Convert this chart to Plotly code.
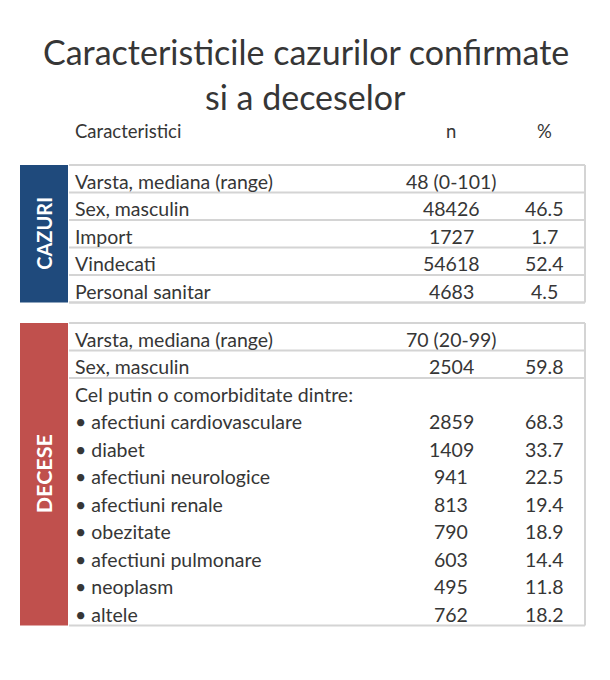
import plotly.graph_objects as go

# ---- data ----
title_lines = ["Caracteristicile cazurilor confirmate", "si a deceselor"]
header_labels = ["Caracteristici", "n", "%"]

cazuri_group = "CAZURI"
cazuri_labels = ["Varsta, mediana (range)", "Sex, masculin", "Import", "Vindecati", "Personal sanitar"]
cazuri_n = ["48 (0-101)", "48426", "1727", "54618", "4683"]
cazuri_pct = ["", "46.5", "1.7", "52.4", "4.5"]

decese_group = "DECESE"
decese_labels = ["Varsta, mediana (range)", "Sex, masculin", "Cel putin o comorbiditate dintre:",
                 "• afectiuni cardiovasculare", "• diabet", "• afectiuni neurologice",
                 "• afectiuni renale", "• obezitate", "• afectiuni pulmonare", "• neoplasm", "• altele"]
decese_n = ["70 (20-99)", "2504", "", "2859", "1409", "941", "813", "790", "603", "495", "762"]
decese_pct = ["", "59.8", "", "68.3", "33.7", "22.5", "19.4", "18.9", "14.4", "11.8", "18.2"]

# ---- layout constants ----
W, H = 610, 680
OFF = 8  # page body margin
FONT = "Lato"
TXT = "#363636"
BLUE = "#1f4a7c"
RED = "#c0504d"
GRID = "#d4d4d4"
X_BLOCK0, X_BLOCK1 = 20, 68
X_RIGHT = 585
X_LABEL = 73
X_N = 451
X_PCT = 544
ROW_H = 27.5
ROW_FS = 19.5

shapes = []
annotations = []

# outer frame (right edge visible)
shapes.append(dict(type="line", x0=603.5, x1=603.5, y0=OFF, y1=H - OFF, line=dict(color="#cfcfcf", width=1.5)))

# title
annotations.append(dict(x=W / 2 + 1, y=51, text=title_lines[0], showarrow=False, xanchor="center", yanchor="middle",
                        font=dict(family=FONT, size=34, color=TXT)))
annotations.append(dict(x=W / 2, y=96, text=title_lines[1], showarrow=False, xanchor="center", yanchor="middle",
                        font=dict(family=FONT, size=34, color=TXT)))

# header
hy = 131
for txt, x, anchor in zip(header_labels, [X_LABEL, X_N, X_PCT], ["left", "center", "center"]):
    annotations.append(dict(x=x, y=hy, text=txt, showarrow=False, xanchor=anchor, yanchor="middle",
                            font=dict(family=FONT, size=18.5, color=TXT)))


def add_block(top, group, color, labels, ns, pcts, n_lined, gfs):
    bottom = top + ROW_H * len(labels)
    shapes.append(dict(type="rect", x0=X_BLOCK0, x1=X_BLOCK1, y0=top, y1=bottom, fillcolor=color,
                       line=dict(width=0), layer="below"))
    annotations.append(dict(x=(X_BLOCK0 + X_BLOCK1) / 2, y=(top + bottom) / 2, text="<b>" + group + "</b>",
                            textangle=-90, showarrow=False, xanchor="center", yanchor="middle",
                            font=dict(family=FONT, size=gfs, color="white")))
    ys = [top + ROW_H * k for k in range(n_lined + 1)] + [bottom]
    for y in ys:
        shapes.append(dict(type="line", x0=X_BLOCK1 + 1, x1=X_RIGHT, y0=y, y1=y, line=dict(color=GRID, width=2)))
    shapes.append(dict(type="line", x0=X_RIGHT, x1=X_RIGHT, y0=top, y1=bottom, line=dict(color=GRID, width=2)))
    for i, (lab, n, p) in enumerate(zip(labels, ns, pcts)):
        yc = top + ROW_H * (i + 0.5) + 2.5
        annotations.append(dict(x=X_LABEL, y=yc, text=lab, showarrow=False, xanchor="left", yanchor="middle",
                                font=dict(family=FONT, size=ROW_FS, color=TXT)))
        if n:
            annotations.append(dict(x=X_N, y=yc, text=n, showarrow=False, xanchor="center", yanchor="middle",
                                    font=dict(family=FONT, size=ROW_FS, color=TXT)))
        if p:
            annotations.append(dict(x=X_PCT, y=yc, text=p, showarrow=False, xanchor="center", yanchor="middle",
                                    font=dict(family=FONT, size=ROW_FS, color=TXT)))


add_block(165, cazuri_group, BLUE, cazuri_labels, cazuri_n, cazuri_pct, len(cazuri_labels), 20)
add_block(323, decese_group, RED, decese_labels, decese_n, decese_pct, 2, 21.5)

fig = go.Figure()
fig.update_layout(
    width=W - OFF, height=H - 2 * OFF,
    margin=dict(l=0, r=0, t=0, b=0),
    paper_bgcolor="white", plot_bgcolor="white",
    xaxis=dict(range=[OFF, W], visible=False, fixedrange=True),
    yaxis=dict(range=[H - OFF, OFF], visible=False, fixedrange=True),
    shapes=shapes, annotations=annotations, showlegend=False,
)
fig.write_html("out.html")
